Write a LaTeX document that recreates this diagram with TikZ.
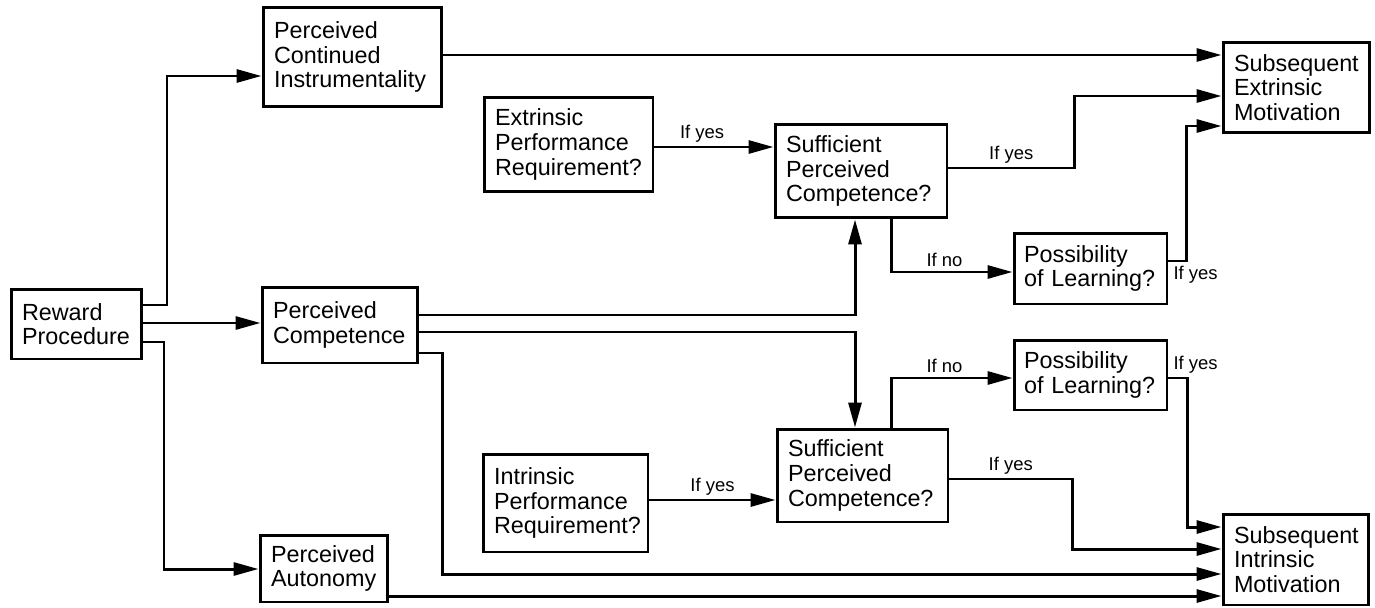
\documentclass[tikz,border=0pt]{standalone}
\usepackage{fontspec}
\setmainfont{Liberation Sans}
\usepackage{tikz}
\usetikzlibrary{arrows.meta}
\hyphenpenalty=10000

\begin{document}
\begin{tikzpicture}[x = 0.02cm, y = -0.02cm,
    box/.style = {draw, line width = 1.7pt, align = left, inner xsep = 0.22cm, inner ysep = 0pt, font = \fontsize{13.3}{14}\selectfont},
    arr/.style = {-{Triangle[length = 0.5cm, width = 0.26cm]}, line width = 1.7pt},
    lbl/.style = {font = \fontsize{10.5}{12}\selectfont, inner sep = 2pt}]
    \useasboundingbox (0,0) rectangle (1375,608);

    \node[box, text width = 2.18cm, minimum height = 1.40cm](rewardProcedure) at (76.5,324) {Reward\\Procedure};
    \node[box, text width = 3.14cm, minimum height = 2.00cm](continuedInstr) at (352.5,57) {Perceived\\Continued\\Instrumentality};
    \node[box, text width = 2.68cm, minimum height = 1.52cm](perceivedComp) at (340,325) {Perceived\\Competence};
    \node[box, text width = 2.12cm, minimum height = 1.34cm](perceivedAuton) at (324,568.5) {Perceived\\Autonomy};
    \node[box, text width = 2.94cm, minimum height = 1.90cm](extrinsicReq) at (568.5,144.5) {Extrinsic\\Performance\\Requirement?};
    \node[box, text width = 2.86cm, minimum height = 1.96cm](intrinsicReq) at (565.5,503) {Intrinsic\\Performance\\Requirement?};
    \node[box, text width = 3.00cm, minimum height = 1.88cm](sufficientExt) at (861,171) {Sufficient\\Perceived\\Competence?};
    \node[box, text width = 2.98cm, minimum height = 1.86cm](sufficientInt) at (862.5,475.5) {Sufficient\\Perceived\\Competence?};
    \node[box, inner xsep = 0.2cm, text width = 2.66cm, minimum height = 1.42cm](learningExt) at (1090.5,268.5) {Possibility\\of Learning?};
    \node[box, inner xsep = 0.2cm, text width = 2.66cm, minimum height = 1.40cm](learningInt) at (1090.5,375) {Possibility\\of Learning?};
    \node[box, text width = 2.48cm, minimum height = 1.82cm](extrinsicMot) at (1296,87.5) {Subsequent\\Extrinsic\\Motivation};
    \node[box, text width = 2.46cm, minimum height = 1.82cm](intrinsicMot) at (1295.5,559.5) {Subsequent\\Intrinsic\\Motivation};

    % from the reward procedure
    \draw[arr] (rewardProcedure.east |- 0,305) -| (167,76) -- (continuedInstr.west |- 0,76);
    \draw[arr] (rewardProcedure.east |- 0,323) -- (perceivedComp.west |- 0,323);
    \draw[arr] (rewardProcedure.east |- 0,342) -| (164,569) -- (perceivedAuton.west |- 0,569);

    % extrinsic side
    \draw[arr] (continuedInstr.east |- 0,55) -- (extrinsicMot.west |- 0,55);
    \draw[arr] (extrinsicReq.east |- 0,147) -- node[lbl, above, pos = 0.4]{If yes} (sufficientExt.west |- 0,147);
    \draw[arr] (sufficientExt.east |- 0,168) -- node[lbl, above]{If yes} (1074,168) |- (extrinsicMot.west |- 0,96);
    \draw[arr] (sufficientExt.south -| 891,0) |- node[lbl, above, pos = 0.72]{If no} (learningExt.west |- 0,272);
    \draw[arr] (learningExt.east |- 0,261) node[lbl, below right]{If yes} -- (1186,261) |- (extrinsicMot.west |- 0,126);

    % perceived competence
    \draw[arr] (perceivedComp.east |- 0,315) -| (sufficientExt.south -| 855,0);
    \draw[arr] (perceivedComp.east |- 0,332) -| (sufficientInt.north -| 855,0);
    \draw[arr] (perceivedComp.east |- 0,353) -| (442,574) -- (intrinsicMot.west |- 0,574);
    \draw[arr] (perceivedAuton.east |- 0,596) -- (intrinsicMot.west |- 0,596);

    % intrinsic side
    \draw[arr] (intrinsicReq.east |- 0,500) -- node[lbl, above]{If yes} (sufficientInt.west |- 0,500);
    \draw[arr] (sufficientInt.north -| 891,0) |- node[lbl, above, pos = 0.72]{If no} (learningInt.west |- 0,378);
    \draw[arr] (learningInt.east |- 0,378) node[lbl, above right]{If yes} -- (1187,378) |- (intrinsicMot.west |- 0,527);
    \draw[arr] (sufficientInt.east |- 0,479) -- node[lbl, above]{If yes} (1072,479) |- (intrinsicMot.west |- 0,549);
\end{tikzpicture}
\end{document}
